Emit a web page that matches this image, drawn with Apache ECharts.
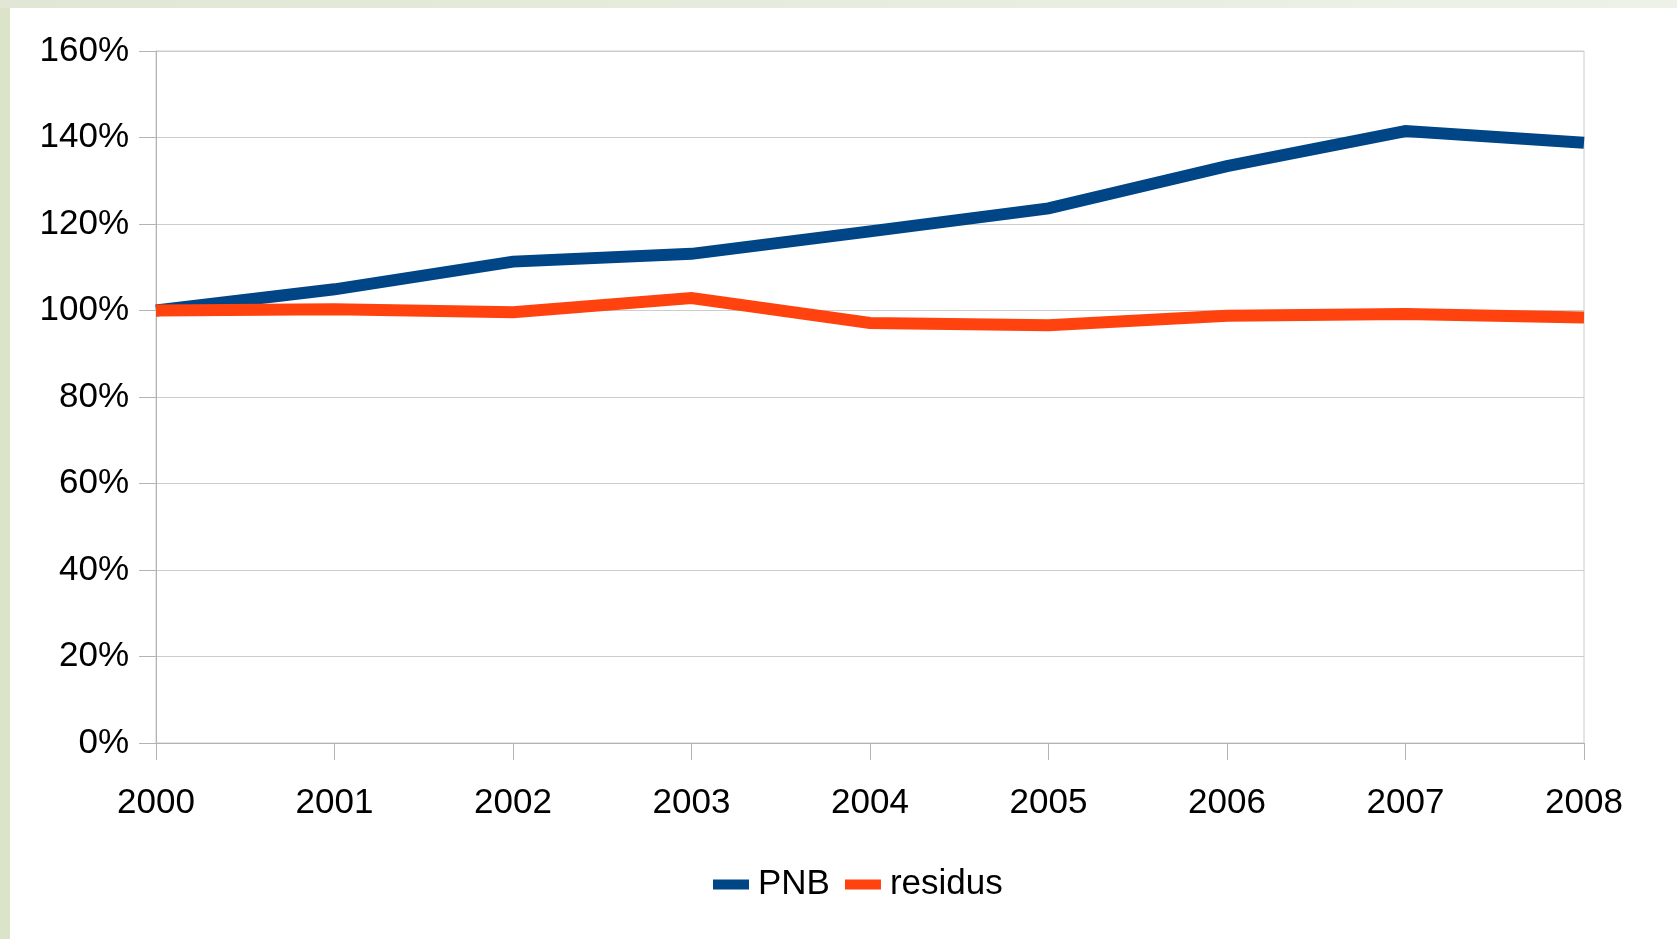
<!DOCTYPE html>
<html>
<head>
<meta charset="utf-8">
<title>PNB / residus</title>
<script src="https://cdn.jsdelivr.net/npm/echarts@6/dist/echarts.min.js"></script>
<style>
  html, body { margin: 0; padding: 0; background: #fff; }
  .strip-left { position: absolute; left: 0; top: 0; width: 10px; height: 939px; background: #dbe4c9; }
  .strip-top { position: absolute; left: 0; top: 0; width: 1677px; height: 8px; background: linear-gradient(to right, #e0e7d4, #eef1e8); }
  #chart { position: absolute; left: 0; top: 0; width: 1677px; height: 939px; z-index: 1; }
</style>
</head>
<body>
<div class="strip-left"></div>
<div class="strip-top"></div>
<div id="chart"></div>
<script>
// années
const years = ['2000', '2001', '2002', '2003', '2004', '2005', '2006', '2007', '2008']
// valeurs en % (base 2000 = 100)
const pnb = [100, 104.9, 111.3, 113.1, 118.3, 123.6, 133.4, 141.5, 138.8]
const residus = [100, 100.3, 99.6, 102.9, 97.1, 96.6, 98.8, 99.2, 98.4]

const FONT = "'Liberation Sans', Arial, sans-serif"

const SERIES = {
  type: 'line',
  showSymbol: false,
  symbol: 'none',
  lineStyle: {
    width: 12,
    join: 'miter',
    cap: 'butt',
  },
}

const myChart = echarts.init(document.getElementById('chart'))

const option = {
  animation: false,
  color: ['#004586', '#ff420e'],
  grid: {
    left: 156,
    right: 93,
    top: 51,
    bottom: 196,
    show: true,
    borderColor: '#cccccc',
    borderWidth: 1,
    backgroundColor: 'transparent',
  },
  legend: {
    left: 708,
    top: 862,
    icon: 'rect',
    itemWidth: 36,
    itemHeight: 10,
    itemGap: 15,
    textStyle: {
      fontFamily: FONT,
      fontSize: 35,
      color: '#000',
      padding: [0, 0, 0, 4],
    },
    data: ['PNB', 'residus'],
  },
  xAxis: {
    type: 'category',
    data: years,
    boundaryGap: false,
    axisLine: { show: true, lineStyle: { color: '#b3b3b3', width: 1 } },
    axisTick: { show: true, length: 17, lineStyle: { color: '#b3b3b3' } },
    axisLabel: {
      margin: 43,
      fontFamily: FONT,
      fontSize: 35,
      color: '#000',
    },
    splitLine: { show: false },
  },
  yAxis: {
    type: 'value',
    min: 0,
    max: 160,
    interval: 20,
    axisLine: { show: true, lineStyle: { color: '#b3b3b3', width: 1 } },
    axisTick: { show: true, length: 17, lineStyle: { color: '#b3b3b3' } },
    axisLabel: {
      margin: 27,
      fontFamily: FONT,
      fontSize: 35,
      color: '#000',
      formatter: '{value}%',
    },
    splitLine: { show: true, lineStyle: { color: '#cccccc', width: 1 } },
  },
  series: [
    { ...SERIES, name: 'PNB', data: pnb },
    { ...SERIES, name: 'residus', data: residus },
  ],
}

myChart.setOption(option)
</script>
</body>
</html>
